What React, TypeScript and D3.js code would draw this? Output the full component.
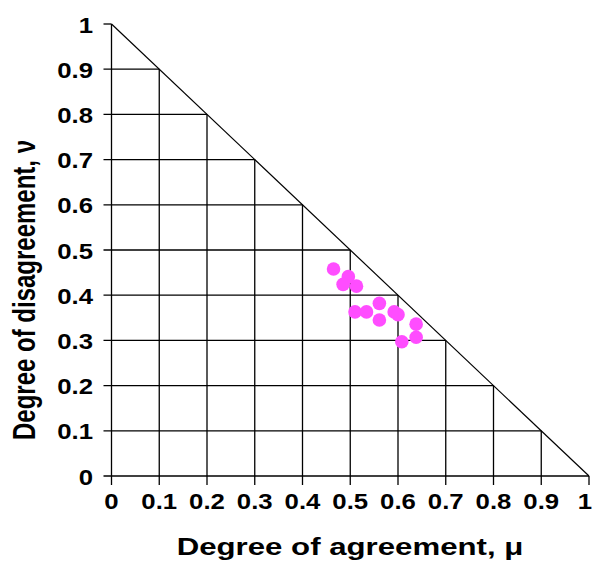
import React from "react";
import * as d3 from "d3";

const ticks = [0, 0.1, 0.2, 0.3, 0.4, 0.5, 0.6, 0.7, 0.8, 0.9, 1];
const tickLabels = ["0", "0.1", "0.2", "0.3", "0.4", "0.5", "0.6", "0.7", "0.8", "0.9", "1"];
const mu = [0.465, 0.496, 0.485, 0.513, 0.51, 0.534, 0.561, 0.561, 0.592, 0.6, 0.638, 0.638, 0.608];
const nu = [0.458, 0.441, 0.424, 0.42, 0.363, 0.363, 0.382, 0.345, 0.363, 0.357, 0.336, 0.307, 0.297];
const xTitle = "Degree of agreement, μ";
const yTitle = "Degree of disagreement, ν";

const W = 592;
const H = 563;
const x = d3.scaleLinear().domain([0, 1]).range([111.5, 589]);
const y = d3.scaleLinear().domain([0, 1]).range([476, 24]);

export default function App() {
  const font = "Liberation Sans, Arial, sans-serif";
  const sx = 1.12;
  return (
    <svg width={W} height={H} style={{ position: "absolute", left: 0, top: 0, background: "#fff" }}>
      <rect width={W} height={H} fill="#fff" />
      {/* grid inside triangle + ticks */}
      {ticks.slice(1, -1).map((t) => (
        <g key={"g" + t}>
          <line x1={x(t)} x2={x(t)} y1={y(0) + 9} y2={y(1 - t)} stroke="#000" strokeWidth={1.3} />
          <line x1={x(0) - 8} x2={x(1 - t)} y1={y(t)} y2={y(t)} stroke="#000" strokeWidth={1.3} />
        </g>
      ))}
      {/* axes */}
      <line x1={x(0)} x2={x(0)} y1={y(0) + 9} y2={y(1)} stroke="#000" strokeWidth={1.3} />
      <line x1={x(0) - 8} x2={x(1)} y1={y(0)} y2={y(0)} stroke="#000" strokeWidth={1.3} />
      <line x1={x(1)} x2={x(1)} y1={y(0)} y2={y(0) + 9} stroke="#000" strokeWidth={1.3} />
      <line x1={x(0) - 8} x2={x(0)} y1={y(1)} y2={y(1)} stroke="#000" strokeWidth={1.3} />
      {/* hypotenuse */}
      <line x1={x(0)} y1={y(1)} x2={x(1)} y2={y(0)} stroke="#000" strokeWidth={1.2} />
      {/* points */}
      {mu.map((m, i) => (
        <circle key={"p" + i} cx={x(m)} cy={y(nu[i])} r={6.8} fill="#ff4dff" />
      ))}
      {/* y tick labels */}
      {ticks.map((t, i) => (
        <g key={"yl" + t} transform={`translate(93,${y(t) + 8.5}) scale(${sx},1)`}>
          <text textAnchor="end" fontFamily={font} fontWeight="bold" fontSize={23} fill="#000">
            {tickLabels[i]}
          </text>
        </g>
      ))}
      {/* x tick labels */}
      {ticks.map((t, i) => (
        <g key={"xl" + t} transform={`translate(${Math.min(x(t), 585)},509) scale(${sx},1)`}>
          <text textAnchor="middle" fontFamily={font} fontWeight="bold" fontSize={23} fill="#000">
            {tickLabels[i]}
          </text>
        </g>
      ))}
      {/* titles */}
      <g transform={`translate(350,555) scale(1.3,1)`}>
        <text textAnchor="middle" fontFamily={font} fontWeight="bold" fontSize={24} fill="#000">
          {xTitle}
        </text>
      </g>
      <g transform={`translate(35,290) scale(1.3,1) rotate(-90)`}>
        <text textAnchor="middle" fontFamily={font} fontWeight="bold" fontSize={24} fill="#000">
          {yTitle}
        </text>
      </g>
    </svg>
  );
}
